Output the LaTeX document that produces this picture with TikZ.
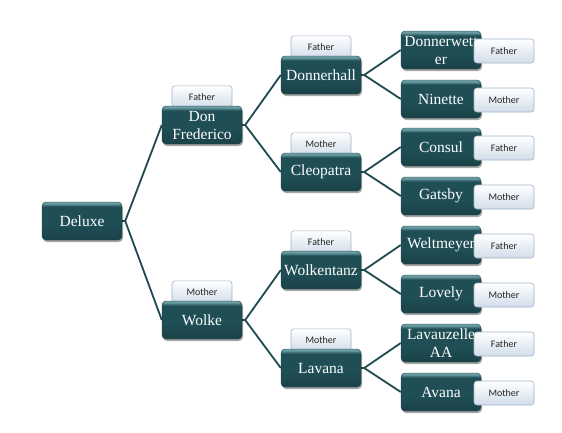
\documentclass[tikz,border=0pt]{standalone}
\usepackage{fontspec}
\setmainfont{Liberation Serif}
\newfontfamily\tabfont{Carlito}
\usetikzlibrary{shadows}
\definecolor{boxtop}{HTML}{6A9CA2}
\definecolor{boxmid}{HTML}{1F4E55}
\definecolor{boxbot}{HTML}{1A4247}
\definecolor{linec}{HTML}{1F4A50}
\definecolor{tabbot}{HTML}{D2DDEA}
\definecolor{tabedge}{HTML}{A3B4C8}
\pgfdeclareverticalshading{boxshade}{100bp}{color(0bp)=(boxbot); color(25bp)=(boxbot); color(45bp)=(boxmid); color(69bp)=(boxmid); color(73bp)=(boxtop); color(100bp)=(boxtop)}
\pgfdeclarelayer{background}
\pgfsetlayers{background,main}
\tikzset{
  person/.style={shape=rectangle, rounded corners=4pt, shade, shading=boxshade, draw=boxbot, line width=0.4pt,
    minimum width=80pt, minimum height=38pt, text=white, font=\fontsize{15.5}{18}\selectfont, align=center, inner sep=1pt,
    drop shadow={shadow xshift=1pt, shadow yshift=-2pt, opacity=0.35, fill=black}},
  tabbox/.style={shape=rectangle, rounded corners=3pt, top color=white, bottom color=tabbot, draw=tabedge, line width=0.6pt,
    minimum width=60pt, minimum height=24pt, inner sep=1pt, font=\tabfont\fontsize{10}{11}\selectfont, text=black!85},
  uptab/.style={tabbox, minimum height=22pt},
  link/.style={draw=linec, line width=1.8pt}
}
\begin{document}
\begin{tikzpicture}[x=1pt,y=-1pt]
\useasboundingbox (0,0) rectangle (562,432);
% boxes
\node[person] (n0) at (82,221) {Deluxe};
\node[person] (n1) at (202,125) {Don\\Frederico};
\node[person] (n2) at (202,320) {Wolke};
\node[person] (n11) at (321,75) {Donnerhall};
\node[person] (n12) at (321,172) {Cleopatra};
\node[person] (n21) at (321,270) {Wolkentanz};
\node[person] (n22) at (321,368) {Lavana};
\node[person] (l1) at (441,50) {Donnerwett\\er};
\node[person] (l2) at (441,99) {Ninette};
\node[person] (l3) at (441,147) {Consul};
\node[person] (l4) at (441,196) {Gatsby};
\node[person] (l5) at (441,245) {Weltmeyer};
\node[person] (l6) at (441,294) {Lovely};
\node[person] (l7) at (441,343) {Lavauzelle\\AA};
\node[person] (l8) at (441,392) {Avana};
% leaf tabs
\node[tabbox] (t1) at (504,51) {Father};
\node[tabbox] (t2) at (504,100) {Mother};
\node[tabbox] (t3) at (504,148) {Father};
\node[tabbox] (t4) at (504,197) {Mother};
\node[tabbox] (t5) at (504,246) {Father};
\node[tabbox] (t6) at (504,295) {Mother};
\node[tabbox] (t7) at (504,344) {Father};
\node[tabbox] (t8) at (504,393) {Mother};
\begin{pgfonlayer}{background}
\fill[white] (0,0) rectangle (562,432);
% upper tabs
\node[uptab] (u1) at ([yshift=9pt]n1.north) {Father};
\node[uptab] (u2) at ([yshift=9pt]n2.north) {Mother};
\node[uptab] (u11) at ([yshift=9pt]n11.north) {Father};
\node[uptab] (u12) at ([yshift=9pt]n12.north) {Mother};
\node[uptab] (u21) at ([yshift=9pt]n21.north) {Father};
\node[uptab] (u22) at ([yshift=9pt]n22.north) {Mother};
% connectors
\coordinate (v0) at ([xshift=3pt]n0.east);
\coordinate (v1) at ([xshift=3pt]n1.east);
\coordinate (v2) at ([xshift=3pt]n2.east);
\coordinate (v11) at ([xshift=3pt]n11.east);
\coordinate (v12) at ([xshift=3pt]n12.east);
\coordinate (v21) at ([xshift=3pt]n21.east);
\coordinate (v22) at ([xshift=3pt]n22.east);
\draw[link] (n0.east) -- (v0);
\draw[link] (n1.west) -- (v0) -- (n2.west);
\draw[link] (n1.east) -- (v1);
\draw[link] (n11.west) -- (v1) -- (n12.west);
\draw[link] (n2.east) -- (v2);
\draw[link] (n21.west) -- (v2) -- (n22.west);
\draw[link] (n11.east) -- (v11);
\draw[link] (l1.west) -- (v11) -- (l2.west);
\draw[link] (n12.east) -- (v12);
\draw[link] (l3.west) -- (v12) -- (l4.west);
\draw[link] (n21.east) -- (v21);
\draw[link] (l5.west) -- (v21) -- (l6.west);
\draw[link] (n22.east) -- (v22);
\draw[link] (l7.west) -- (v22) -- (l8.west);
\end{pgfonlayer}
\end{tikzpicture}
\end{document}
